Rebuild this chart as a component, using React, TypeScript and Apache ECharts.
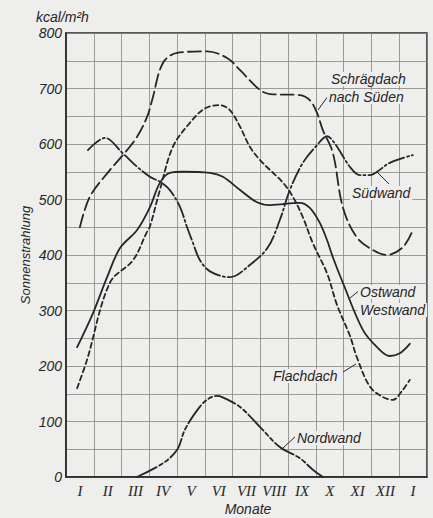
import React, { useEffect, useRef } from "react";
import * as echarts from "echarts";

// Month labels (Roman numerals), January .. December, January
const months = ["I", "II", "III", "IV", "V", "VI", "VII", "VIII", "IX", "X", "XI", "XII", "I"];

// Data: [month position (0 = January, 12 = following January), kcal/m²h]
const schraegdach: [number, number][] = [
  [0, 450], [0.36, 505], [1.08, 553], [1.55, 580], [2.06, 613], [2.42, 649], [2.6, 679],
  [2.99, 746], [3.5, 764], [4.58, 767], [5.3, 755], [5.77, 733], [6.49, 697], [6.85, 690],
  [7.92, 688], [8.28, 679], [8.54, 656], [8.75, 625], [9.11, 584], [9.47, 486], [9.97, 432],
  [10.55, 409], [11.05, 400], [11.63, 414], [11.99, 445],
];
const suedwand: [number, number][] = [
  [0.29, 589], [0.9, 611], [1.55, 583], [2.06, 559], [2.52, 541], [2.88, 532], [3.24, 517],
  [3.6, 487], [3.86, 450], [4.07, 422], [4.32, 391], [4.7, 370], [5.4, 360], [6.12, 382],
  [6.77, 414], [7.2, 463], [7.56, 517], [8.03, 566], [8.54, 598], [8.9, 614], [9.18, 601],
  [9.72, 559], [10.08, 544], [10.44, 544], [10.7, 550], [11.16, 566], [11.99, 580],
];
const ostWestwand: [number, number][] = [
  [-0.1, 234], [0.47, 295], [0.98, 360], [1.44, 412], [2.06, 445], [2.52, 486],
  [2.88, 530], [3.24, 548], [3.71, 550], [4.68, 548], [5.15, 541], [5.77, 517], [6.38, 495],
  [6.85, 490], [7.92, 494], [8.28, 485], [8.64, 458], [8.9, 427], [9.11, 396], [9.47, 350],
  [10.19, 265], [10.7, 234], [11.16, 218], [11.52, 223], [11.88, 240],
];
const flachdach: [number, number][] = [
  [-0.1, 160], [0.25, 210], [1.08, 350], [1.92, 391], [2.4, 440], [2.52, 451],
  [2.88, 517], [3.35, 595], [3.96, 638], [4.5, 664], [5.04, 670], [5.4, 661], [5.77, 631],
  [6.12, 595], [6.49, 571], [6.85, 553], [7.32, 530], [7.67, 505], [8.03, 468], [8.39, 421],
  [8.9, 367], [9.26, 310], [9.72, 255], [9.98, 215], [10.44, 163], [10.91, 144], [11.27, 139],
  [11.63, 157], [11.88, 175],
];
const nordwand: [number, number][] = [
  [2.05, 0], [3.0, 25], [3.5, 49], [3.78, 85], [4.22, 120], [4.57, 139], [4.93, 146],
  [5.12, 144], [5.77, 126], [6.49, 90], [7.2, 54], [7.92, 34], [8.39, 13], [8.75, 0],
];

const INK = "#262626";
const PAPER = "#eeeeec";
const GRID = "#858585";
const SANS = "'Liberation Sans', 'DejaVu Sans', sans-serif";
const SERIF = "'Liberation Serif', 'DejaVu Serif', serif";

function lineSeries(name: string, data: [number, number][], dash: number[] | "solid") {
  return {
    name,
    type: "line",
    xAxisIndex: 1,
    data,
    smooth: 0.35,
    showSymbol: false,
    symbol: "none",
    lineStyle: { color: INK, width: 1.8, type: dash, cap: "round" },
  };
}

function annotation(text: string, x: number, y: number) {
  return {
    type: "text",
    x,
    y,
    z: 100,
    style: {
      text,
      font: `italic 14px ${SANS}`,
      fill: INK,
      backgroundColor: PAPER,
      padding: [0, 2, 0, 2],
      textVerticalAlign: "middle",
    },
  };
}

function leader(x1: number, y1: number, x2: number, y2: number) {
  return {
    type: "line",
    z: 100,
    shape: { x1, y1, x2, y2 },
    style: { stroke: INK, lineWidth: 1 },
  };
}

export default function App() {
  const ref = useRef<HTMLDivElement>(null);
  useEffect(() => {
    if (!ref.current) return;
    const chart = echarts.init(ref.current, null, { renderer: "svg" });
    chart.setOption({
      animation: false,
      backgroundColor: PAPER,
      grid: {
        left: 66,
        right: 6,
        top: 33,
        bottom: 41,
        show: true,
        borderColor: INK,
        borderWidth: 1.5,
        backgroundColor: "transparent",
      },
      xAxis: [
        {
          type: "category",
          data: months,
          boundaryGap: true,
          axisLine: { onZero: false, lineStyle: { color: INK, width: 1.5 } },
          axisTick: { show: false },
          splitLine: { show: true, lineStyle: { color: GRID, width: 0.8 } },
          axisLabel: {
            color: INK,
            fontFamily: SERIF,
            fontStyle: "italic",
            fontSize: 15,
            margin: 6,
            interval: 0,
          },
        },
        {
          type: "value",
          min: -0.5,
          max: 12.5,
          show: false,
        },
      ],
      yAxis: {
        type: "value",
        min: 0,
        max: 800,
        interval: 50,
        axisLine: { show: true, onZero: false, lineStyle: { color: INK, width: 1.5 } },
        axisTick: { show: false },
        splitLine: { show: true, lineStyle: { color: GRID, width: 0.8 } },
        axisLabel: {
          color: INK,
          fontFamily: SANS,
          fontStyle: "italic",
          fontSize: 14,
          margin: 4,
          formatter: (v: number) => (v % 100 === 0 ? String(v) : ""),
        },
      },
      series: [
        lineSeries("Schrägdach nach Süden", schraegdach, [13, 5]),
        lineSeries("Südwand", suedwand, [16, 3, 2, 3]),
        lineSeries("Ostwand / Westwand", ostWestwand, "solid"),
        lineSeries("Flachdach", flachdach, [5, 3.5]),
        lineSeries("Nordwand", nordwand, [22, 3, 4, 3, 4, 3]),
      ],
      graphic: [
        {
          type: "text",
          x: 36,
          y: 17,
          style: { text: "kcal/m²h", font: `italic 14px ${SANS}`, fill: INK, textVerticalAlign: "middle" },
        },
        {
          type: "text",
          x: 25,
          y: 255,
          rotation: Math.PI / 2,
          style: {
            text: "Sonnenstrahlung",
            font: `italic 13px ${SANS}`,
            fill: INK,
            textAlign: "center",
            textVerticalAlign: "middle",
          },
        },
        {
          type: "text",
          x: 248,
          y: 509,
          style: {
            text: "Monate",
            font: `italic 14px ${SANS}`,
            fill: INK,
            textAlign: "center",
            textVerticalAlign: "middle",
          },
        },
        leader(318, 110, 331, 92),
        annotation("Schrägdach", 329, 79),
        annotation("nach Süden", 327, 97),
        leader(377, 172, 389, 184),
        annotation("Südwand", 350, 193),
        leader(350, 298, 360, 290),
        annotation("Ostwand", 358, 292),
        annotation("Westwand", 358, 310),
        leader(343, 372, 356, 364),
        annotation("Flachdach", 271, 376),
        leader(283, 448, 297, 435),
        annotation("Nordwand", 295, 438),
      ],
    });
    return () => chart.dispose();
  }, []);
  return (
    <div
      ref={ref}
      style={{ position: "fixed", left: 0, top: 0, width: 433, height: 518 }}
    />
  );
}
